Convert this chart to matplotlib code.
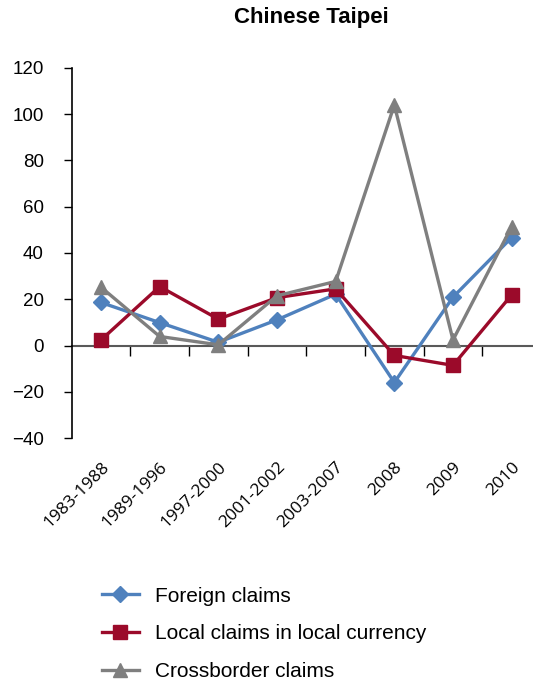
import matplotlib
matplotlib.use("Agg")
import matplotlib.pyplot as plt
from matplotlib.ticker import FixedLocator, NullFormatter

# Data
periods = ['1983-1988', '1989-1996', '1997-2000', '2001-2002', '2003-2007', '2008', '2009', '2010']
foreign = [18.6, 9.9, 1.4, 11.1, 22.2, -16.0, 20.9, 46.7]
local = [2.4, 25.5, 11.4, 20.7, 24.5, -4.3, -8.6, 21.9]
crossborder = [25.2, 3.9, 0.3, 21.5, 27.7, 104.0, 2.4, 51.4]

blue = '#4F81BD'
red = '#9B0A2A'
gray = '#7F7F7F'

fig = plt.figure(figsize=(5.33, 6.86), dpi=100)
ax = fig.add_axes([0.1345, 0.3615, 0.8805, 0.5394])

x = range(len(periods))
ax.plot(x, foreign, color=blue, lw=2.4, marker='D', ms=8, label='Foreign claims')
ax.plot(x, local, color=red, lw=2.4, marker='s', ms=10, label='Local claims in local currency')
ax.plot(x, crossborder, color=gray, lw=2.4, marker='^', ms=10, label='Crossborder claims')

ax.set_xlim(-0.5, len(periods) - 0.5)
ax.set_ylim(-40, 120)
ax.set_yticks(range(-40, 121, 20))
ax.tick_params(axis='y', direction='out', length=6, width=1, pad=14,
               labelsize=13.5, labelfontfamily='Liberation Sans')
for s in ['top', 'right', 'bottom']:
    ax.spines[s].set_visible(False)
ax.spines['left'].set_linewidth(1.2)

# category labels at the bottom
ax.set_xticks(list(x))
ax.set_xticklabels(periods, rotation=45, ha='right', rotation_mode='anchor',
                   fontsize=12.5, family='Open Sans')
ax.tick_params(axis='x', length=0, pad=15)

# zero axis line with boundary ticks
sec = ax.secondary_xaxis(0.25)
sec.spines['bottom'].set_color('#595959')
sec.spines['bottom'].set_linewidth(1.5)
sec.xaxis.set_major_locator(FixedLocator([i + 0.5 for i in range(len(periods) - 1)]))
sec.xaxis.set_major_formatter(NullFormatter())
sec.tick_params(axis='x', direction='out', length=7, width=1, color='black')

fig.text(311 / 533, 1 - 17 / 686, 'Chinese Taipei', ha='center', va='center',
         fontsize=16, fontweight='bold', family='Liberation Sans')

fig.legend(loc='upper left', bbox_to_anchor=(0.175, 0.157), frameon=False,
           prop={'family': 'Liberation Sans', 'size': 15}, handlelength=1.8,
           labelspacing=0.9, handletextpad=0.75, borderaxespad=0)

fig.savefig('out.png', dpi=100)
